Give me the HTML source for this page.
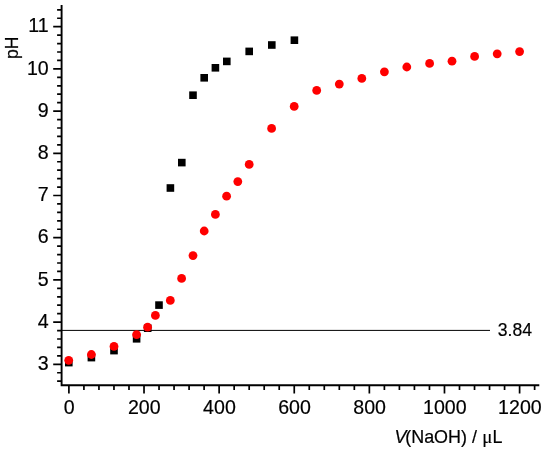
<!DOCTYPE html>
<html><head><meta charset="utf-8"><title>Titration curve</title>
<style>html,body{margin:0;padding:0;background:#fff}body{width:550px;height:450px;overflow:hidden}</style></head>
<body>
<svg width="550" height="450" viewBox="0 0 550 450" style="display:block;will-change:transform">
<rect width="550" height="450" fill="#fff"/>
<line x1="61.6" y1="330.4" x2="490" y2="330.4" stroke="#000" stroke-width="1"/>
<rect x="65.00" y="358.80" width="7.6" height="7.6" fill="#000"/>
<rect x="87.60" y="353.80" width="7.6" height="7.6" fill="#000"/>
<rect x="110.20" y="346.80" width="7.6" height="7.6" fill="#000"/>
<rect x="132.80" y="335.00" width="7.6" height="7.6" fill="#000"/>
<rect x="143.90" y="324.40" width="7.6" height="7.6" fill="#000"/>
<rect x="155.20" y="301.30" width="7.6" height="7.6" fill="#000"/>
<rect x="166.60" y="184.20" width="7.6" height="7.6" fill="#000"/>
<rect x="178.00" y="158.80" width="7.6" height="7.6" fill="#000"/>
<rect x="189.20" y="91.40" width="7.6" height="7.6" fill="#000"/>
<rect x="200.40" y="74.00" width="7.6" height="7.6" fill="#000"/>
<rect x="211.60" y="64.00" width="7.6" height="7.6" fill="#000"/>
<rect x="223.00" y="57.60" width="7.6" height="7.6" fill="#000"/>
<rect x="245.40" y="47.60" width="7.6" height="7.6" fill="#000"/>
<rect x="268.00" y="41.20" width="7.6" height="7.6" fill="#000"/>
<rect x="290.60" y="36.40" width="7.6" height="7.6" fill="#000"/>
<circle cx="68.70" cy="360.30" r="4.40" fill="#ff0000"/>
<circle cx="91.40" cy="354.50" r="4.40" fill="#ff0000"/>
<circle cx="114.00" cy="346.40" r="4.40" fill="#ff0000"/>
<circle cx="136.60" cy="334.60" r="4.40" fill="#ff0000"/>
<circle cx="147.60" cy="327.20" r="4.40" fill="#ff0000"/>
<circle cx="155.40" cy="315.40" r="4.40" fill="#ff0000"/>
<circle cx="170.30" cy="300.40" r="4.40" fill="#ff0000"/>
<circle cx="181.60" cy="278.40" r="4.40" fill="#ff0000"/>
<circle cx="193.00" cy="255.60" r="4.40" fill="#ff0000"/>
<circle cx="204.20" cy="231.00" r="4.40" fill="#ff0000"/>
<circle cx="215.40" cy="214.40" r="4.40" fill="#ff0000"/>
<circle cx="226.60" cy="196.20" r="4.40" fill="#ff0000"/>
<circle cx="237.80" cy="181.60" r="4.40" fill="#ff0000"/>
<circle cx="249.20" cy="164.40" r="4.40" fill="#ff0000"/>
<circle cx="271.60" cy="128.40" r="4.40" fill="#ff0000"/>
<circle cx="294.20" cy="106.40" r="4.40" fill="#ff0000"/>
<circle cx="316.70" cy="90.40" r="4.40" fill="#ff0000"/>
<circle cx="339.30" cy="84.10" r="4.40" fill="#ff0000"/>
<circle cx="361.80" cy="78.40" r="4.40" fill="#ff0000"/>
<circle cx="384.40" cy="71.80" r="4.40" fill="#ff0000"/>
<circle cx="406.80" cy="67.00" r="4.40" fill="#ff0000"/>
<circle cx="429.60" cy="63.40" r="4.40" fill="#ff0000"/>
<circle cx="452.00" cy="61.20" r="4.40" fill="#ff0000"/>
<circle cx="474.60" cy="56.40" r="4.40" fill="#ff0000"/>
<circle cx="497.20" cy="53.80" r="4.40" fill="#ff0000"/>
<circle cx="519.60" cy="51.60" r="4.40" fill="#ff0000"/>
<g stroke="#000" stroke-width="1.9" fill="none">
<path d="M61.6 5V385.3H539.3"/>
<path stroke-width="1.7" d="M61.6 381.18H57.1M61.6 372.74H57.1M61.6 364.30H53.2M61.6 355.86H57.1M61.6 347.42H57.1M61.6 338.98H57.1M61.6 330.54H57.1M61.6 322.10H53.2M61.6 313.66H57.1M61.6 305.22H57.1M61.6 296.78H57.1M61.6 288.34H57.1M61.6 279.90H53.2M61.6 271.46H57.1M61.6 263.02H57.1M61.6 254.58H57.1M61.6 246.14H57.1M61.6 237.70H53.2M61.6 229.26H57.1M61.6 220.82H57.1M61.6 212.38H57.1M61.6 203.94H57.1M61.6 195.50H53.2M61.6 187.06H57.1M61.6 178.62H57.1M61.6 170.18H57.1M61.6 161.74H57.1M61.6 153.30H53.2M61.6 144.86H57.1M61.6 136.42H57.1M61.6 127.98H57.1M61.6 119.54H57.1M61.6 111.10H53.2M61.6 102.66H57.1M61.6 94.22H57.1M61.6 85.78H57.1M61.6 77.34H57.1M61.6 68.90H53.2M61.6 60.46H57.1M61.6 52.02H57.1M61.6 43.58H57.1M61.6 35.14H57.1M61.6 26.70H53.2M61.6 18.26H57.1M61.6 9.82H57.1M68.90 385.3V393.5M83.92 385.3V390.0M98.95 385.3V390.0M113.97 385.3V390.0M128.99 385.3V390.0M144.02 385.3V393.5M159.04 385.3V390.0M174.06 385.3V390.0M189.09 385.3V390.0M204.11 385.3V390.0M219.13 385.3V393.5M234.16 385.3V390.0M249.18 385.3V390.0M264.20 385.3V390.0M279.22 385.3V390.0M294.25 385.3V393.5M309.27 385.3V390.0M324.29 385.3V390.0M339.32 385.3V390.0M354.34 385.3V390.0M369.36 385.3V393.5M384.39 385.3V390.0M399.41 385.3V390.0M414.43 385.3V390.0M429.46 385.3V390.0M444.48 385.3V393.5M459.50 385.3V390.0M474.53 385.3V390.0M489.55 385.3V390.0M504.57 385.3V390.0M519.60 385.3V393.5M534.62 385.3V390.0"/>
</g>
<g style="font-family:&quot;Liberation Sans&quot;,sans-serif" fill="#000" stroke="#000" stroke-width="0.2">
<text transform="translate(48.70,370.00) scale(0.9609,1)" font-size="20.40" text-anchor="end">3</text>
<text transform="translate(48.70,327.80) scale(0.9609,1)" font-size="20.40" text-anchor="end">4</text>
<text transform="translate(48.70,285.60) scale(0.9609,1)" font-size="20.40" text-anchor="end">5</text>
<text transform="translate(48.70,243.40) scale(0.9609,1)" font-size="20.40" text-anchor="end">6</text>
<text transform="translate(48.70,201.20) scale(0.9609,1)" font-size="20.40" text-anchor="end">7</text>
<text transform="translate(48.70,159.00) scale(0.9609,1)" font-size="20.40" text-anchor="end">8</text>
<text transform="translate(48.70,116.80) scale(0.9609,1)" font-size="20.40" text-anchor="end">9</text>
<text transform="translate(48.70,74.60) scale(0.9609,1)" font-size="20.40" text-anchor="end">10</text>
<text transform="translate(48.70,32.40) scale(0.9609,1)" font-size="20.40" text-anchor="end">11</text>
<text transform="translate(69.20,414.40) scale(0.9609,1)" font-size="20.40" text-anchor="middle">0</text>
<text transform="translate(144.32,414.40) scale(0.9609,1)" font-size="20.40" text-anchor="middle">200</text>
<text transform="translate(219.43,414.40) scale(0.9609,1)" font-size="20.40" text-anchor="middle">400</text>
<text transform="translate(294.55,414.40) scale(0.9609,1)" font-size="20.40" text-anchor="middle">600</text>
<text transform="translate(369.66,414.40) scale(0.9609,1)" font-size="20.40" text-anchor="middle">800</text>
<text transform="translate(444.78,414.40) scale(0.9609,1)" font-size="20.40" text-anchor="middle">1000</text>
<text transform="translate(519.90,414.40) scale(0.9609,1)" font-size="20.40" text-anchor="middle">1200</text>
<text transform="translate(497.80,335.80) scale(0.9609,1)" font-size="18.32" text-anchor="start">3.84</text>
<text transform="translate(394.50,442.60) scale(0.9609,1)" font-size="18.68" text-anchor="start"><tspan font-style="italic">V</tspan><tspan dx="-1.3">(</tspan>NaOH) / <tspan dx="0.3" font-size="19.6" style="font-family:&quot;Liberation Serif&quot;,serif">μ</tspan><tspan dx="0.3">L</tspan></text>
<text transform="translate(17.60,59.00) rotate(-90) scale(0.9609,1)" font-size="18.32">pH</text>
</g>
</svg>
</body></html>
